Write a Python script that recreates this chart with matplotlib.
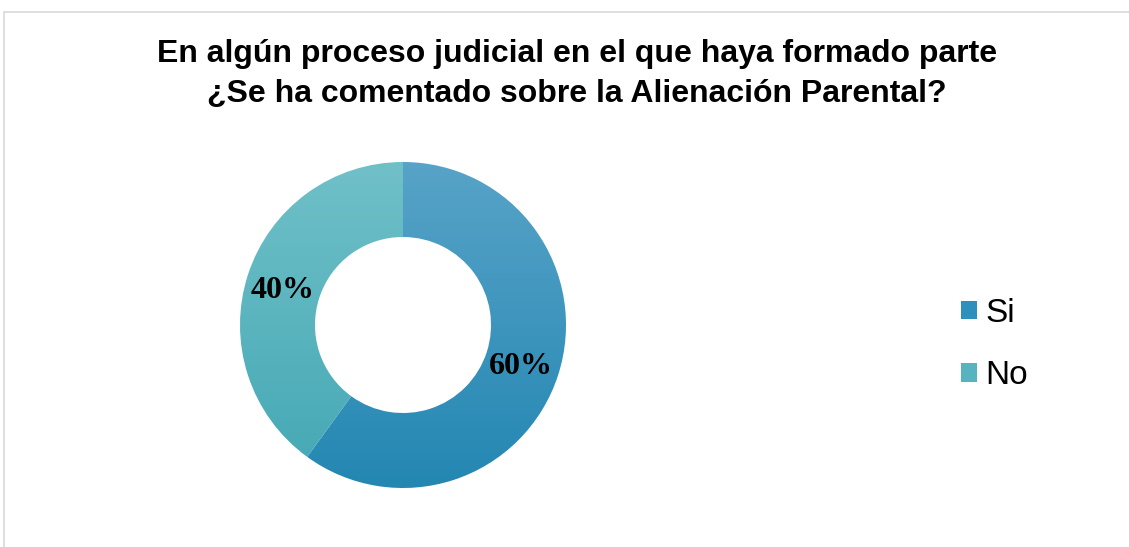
import numpy as np
import matplotlib
matplotlib.use('Agg')
import matplotlib.pyplot as plt
from matplotlib.patches import Patch, Rectangle
from matplotlib.colors import LinearSegmentedColormap

# Data
labels = ['Si', 'No']
values = [60, 40]
title = 'En algún proceso judicial en el que haya formado parte\n¿Se ha comentado sobre la Alienación Parental?'

# gradient colours (top, bottom) per slice
grad = [('#58a3c8', '#2387b2'), ('#70c0c8', '#43a8b4')]
legend_colors = ['#2d91bb', '#56b4be']

W, H = 1129, 547
fig = plt.figure(figsize=(W / 100, H / 100), dpi=100)

# chart border
fig.patches.append(Rectangle((4 / W, -0.1), 1.2, (H - 12) / H + 0.1, transform=fig.transFigure,
                             fill=False, edgecolor='#d9d9d9', linewidth=1.2))

# donut axes: centre (403, 325), outer radius 163 px
cx, cy, r = 403, 325, 163
half = 175
ax = fig.add_axes([(cx - half) / W, (H - cy - half) / H, 2 * half / W, 2 * half / H])
lim = half / r
ax.set_xlim(-lim, lim)
ax.set_ylim(-lim, lim)
ax.set_aspect('equal')
ax.axis('off')

wedges, _ = ax.pie(values, startangle=90, counterclock=False, radius=1,
                   wedgeprops=dict(width=0.46, linewidth=0, edgecolor='none'))

ys = np.linspace(1, 0, 256).reshape(-1, 1)
for w, (top, bot) in zip(wedges, grad):
    w.set_facecolor('none')
    cmap = LinearSegmentedColormap.from_list('g', [bot, top])
    im = ax.imshow(ys, cmap=cmap, extent=(-1, 1, -1, 1), origin='upper', aspect='auto', zorder=1)
    im.set_clip_path(w)

ax.set_xlim(-lim, lim)
ax.set_ylim(-lim, lim)

# percentage labels
ax.text((521 - cx) / r, (cy - 367) / r, '60%', ha='center', va='center',
        fontsize=23, fontweight='bold', family='Liberation Serif', zorder=3)
ax.text((283 - cx) / r, (cy - 290) / r, '40%', ha='center', va='center',
        fontsize=23, fontweight='bold', family='Liberation Serif', zorder=3)

fig.text(577 / W, 1 - 74 / H, title, ha='center', va='center', fontsize=23,
         fontweight='bold', family='Liberation Sans', linespacing=1.42)

handles = [Patch(facecolor=c, edgecolor='none') for c in legend_colors]
fig.legend(handles, labels, loc='upper left', bbox_to_anchor=(961 / W, 1 - 298 / H),
           frameon=False, prop=dict(family='Liberation Sans', size=24),
           handlelength=0.48, handleheight=0.48, handletextpad=0.24, labelspacing=0.94,
           borderpad=0, borderaxespad=0)

fig.savefig('out.png', dpi=100)
